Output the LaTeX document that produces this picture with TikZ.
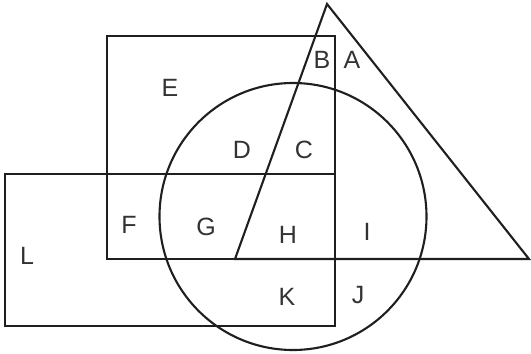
\documentclass[tikz,border=0pt]{standalone}
\usepackage{fontspec}
\setmainfont{Liberation Sans}
\begin{document}
\begin{tikzpicture}[x=1pt,y=-1pt,
  shape line/.style={draw=black!88,line width=2.1pt,line join=miter},
  lbl/.style={font=\fontsize{25}{25}\selectfont,text=black!80,inner sep=0pt}]
\useasboundingbox (0,0) rectangle (531,354);
\fill[white] (0,0) rectangle (531,354);
% upper rectangle
\draw[shape line] (107,36) rectangle (335,259);
% lower rectangle
\draw[shape line] (5,174) rectangle (335,326);
% circle
\draw[shape line] (293,216.5) circle[radius=133.5];
% triangle
\draw[shape line] (327,4) -- (529,259) -- (235,259) -- cycle;
% labels
\node[lbl] (A) at (352,60) {A};
\node[lbl] (B) at (322,60) {B};
\node[lbl] (C) at (304,150) {C};
\node[lbl] (D) at (242,150) {D};
\node[lbl] (E) at (170,88) {E};
\node[lbl] (F) at (129,225) {F};
\node[lbl] (G) at (206,227) {G};
\node[lbl] (H) at (288,235) {H};
\node[lbl] (I) at (367,232) {I};
\node[lbl] (J) at (358,295) {J};
\node[lbl] (K) at (287,297) {K};
\node[lbl] (L) at (27,256) {L};
\end{tikzpicture}
\end{document}
